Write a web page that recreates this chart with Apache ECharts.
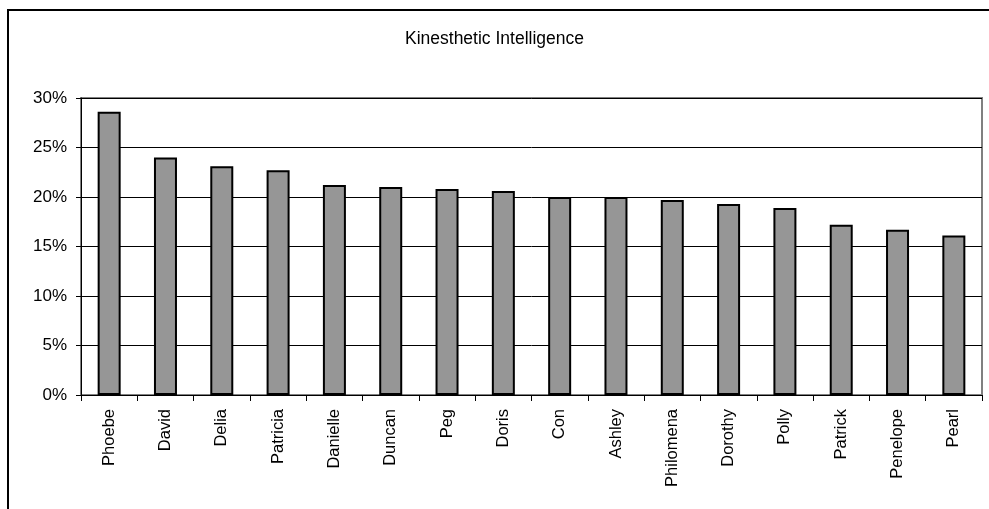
<!DOCTYPE html>
<html>
<head>
<meta charset="utf-8">
<script src="https://cdn.jsdelivr.net/npm/echarts@6/dist/echarts.min.js"></script>
<style>
html,body{margin:0;padding:0;background:#fff;}
#chart{width:989px;height:509px;}
</style>
</head>
<body>
<div id="chart"></div>
<script>
const titleText = "Kinesthetic Intelligence";
const categories = ["Phoebe","David","Delia","Patricia","Danielle","Duncan","Peg","Doris","Con","Ashley","Philomena","Dorothy","Polly","Patrick","Penelope","Pearl"];
const values = [28.6, 24.0, 23.1, 22.7, 21.2, 21.0, 20.8, 20.6, 20.0, 20.0, 19.7, 19.3, 18.9, 17.2, 16.7, 16.1];
const yTicks = [0, 5, 10, 15, 20, 25, 30];

const chart = echarts.init(document.getElementById('chart'), null, {renderer: 'canvas'});
const font = 'Arial, "Liberation Sans", sans-serif';
chart.setOption({
  animation: false,
  backgroundColor: '#fff',
  title: {
    text: titleText,
    left: 'center',
    top: 25,
    textStyle: {fontFamily: font, fontSize: 17.5, fontWeight: 'normal', color: '#000'}
  },
  graphic: [{
    type: 'rect',
    shape: {x: 8, y: 10, width: 1100, height: 700},
    style: {fill: 'none', stroke: '#000', lineWidth: 2},
    silent: true
  }],
  grid: {
    left: 81, right: 7, top: 98, bottom: 114,
    show: true, borderColor: '#808080', borderWidth: 2, backgroundColor: '#fff'
  },
  xAxis: {
    type: 'category',
    data: categories,
    axisLine: {lineStyle: {color: '#000', width: 1}},
    axisTick: {show: true, alignWithLabel: false, length: 6, lineStyle: {color: '#000'}},
    axisLabel: {rotate: 90, margin: 14, fontFamily: font, fontSize: 16.5, color: '#000', interval: 0}
  },
  yAxis: {
    type: 'value',
    min: yTicks[0],
    max: yTicks[yTicks.length - 1],
    interval: 5,
    axisLine: {show: true, lineStyle: {color: '#000', width: 1}},
    axisTick: {show: true, length: 5, lineStyle: {color: '#000'}},
    axisLabel: {margin: 14, fontFamily: font, fontSize: 17, color: '#000', formatter: v => v + '%'},
    splitLine: {show: true, lineStyle: {color: '#000', width: 1}}
  },
  series: [{
    type: 'bar',
    data: values,
    barWidth: 23,
    itemStyle: {color: '#969696', borderColor: '#000', borderWidth: 2}
  }]
});
</script>
</body>
</html>
